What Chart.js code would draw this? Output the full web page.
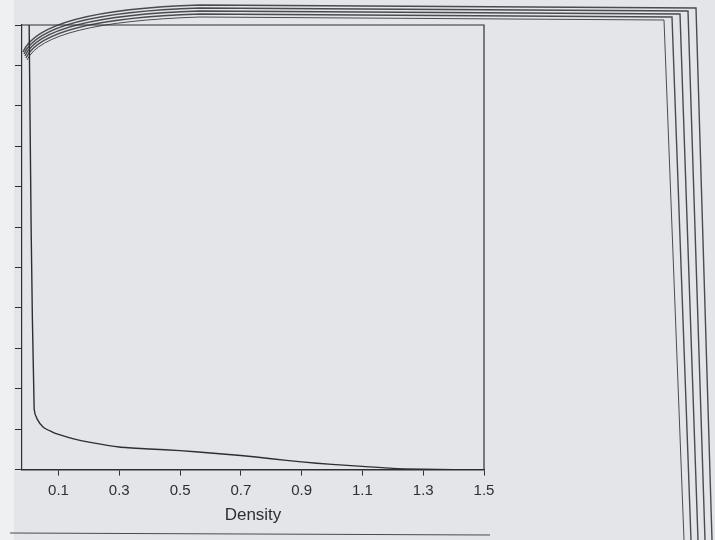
<!DOCTYPE html>
<html>
<head>
<meta charset="utf-8">
<script src="https://cdn.jsdelivr.net/npm/chart.js@4.4.1/dist/chart.umd.min.js"></script>
<style>
    body { margin: 0; background: #e3e5e9; }
    canvas { display: block; }
</style>
</head>
<body>
<canvas id="density-chart" width="715" height="540"></canvas>
<script>
// density curve (x = value, y = density)
const densityX = [0, 0.01, 0.02, 0.03, 0.05, 0.08, 0.1, 0.15, 0.2, 0.3, 0.4, 0.5, 0.6, 0.7, 0.8, 0.9, 1.0, 1.1, 1.2, 1.3, 1.4, 1.5];
const densityY = [14, 6, 1.5, 1.25, 1.05, 0.93, 0.87, 0.76, 0.68, 0.56, 0.51, 0.47, 0.41, 0.35, 0.27, 0.19, 0.13, 0.08, 0.03, 0.01, 0, 0];
const xTickValues = [0.1, 0.3, 0.5, 0.7, 0.9, 1.1, 1.3, 1.5];
const xTitle = "Density";

const ink = "#2e2f33";

// paper background and the edges of the stacked pages in the photo
const paperPlugin = {
    id: "paper",
    beforeDraw(chart) {
        const ctx = chart.ctx;
        ctx.save();
        ctx.fillStyle = "#e3e5e9";
        ctx.fillRect(0, 0, chart.width, chart.height);
        ctx.fillStyle = "#eff0f2";
        ctx.fillRect(0, 0, 14, chart.height);

        ctx.strokeStyle = "#4a4b50";
        for (let i = 0; i < 5; i++) {
            ctx.lineWidth = i === 0 ? 1 : 1.4;
            ctx.beginPath();
            ctx.moveTo(27 - i, 60 - i * 2);
            ctx.quadraticCurveTo(45 - i, 22 - i * 3, 200, 17 - i * 3);
            ctx.lineTo(664 + i * 8, 20 - i * 3);
            ctx.lineTo(684 + i * 7, 540);
            ctx.stroke();
        }
        ctx.lineWidth = 1.2;
        ctx.beginPath();
        ctx.moveTo(10, 533);
        ctx.lineTo(490, 535);
        ctx.stroke();
        ctx.restore();
    },
    afterDatasetsDraw(chart) {
        const a = chart.chartArea;
        const ctx = chart.ctx;
        ctx.save();
        ctx.strokeStyle = ink;
        ctx.lineWidth = 1.2;
        ctx.beginPath();
        ctx.moveTo(a.left, a.top);
        ctx.lineTo(a.right, a.top);
        ctx.lineTo(a.right, a.bottom);
        ctx.stroke();
        ctx.restore();
    },
};

document.addEventListener("DOMContentLoaded", function () {
    drawDensity();
});

function drawDensity() {
    const canvas = document.getElementById("density-chart");

    let points = [];
    for (let i = 0; i < densityX.length; i++) {
        points.push({ x: densityX[i], y: densityY[i] });
    }

    new Chart(canvas, {
        type: "line",
        data: {
            datasets: [
                {
                    data: points,
                    borderColor: ink,
                    borderWidth: 1.4,
                    pointRadius: 0,
                    fill: false,
                    tension: 0.2,
                },
            ],
        },
        plugins: [paperPlugin],
        options: {
            responsive: false,
            animation: false,
            layout: {
                padding: { left: 15, right: 231, top: 25, bottom: 14 },
            },
            plugins: {
                legend: { display: false },
                tooltip: { enabled: false },
            },
            scales: {
                x: {
                    type: "linear",
                    min: -0.02,
                    max: 1.5,
                    afterBuildTicks: (axis) => {
                        axis.ticks = xTickValues.map((v) => ({ value: v }));
                    },
                    ticks: {
                        color: ink,
                        padding: 6,
                        maxRotation: 0,
                        font: { family: "Liberation Sans", size: 15 },
                        callback: (value) => value.toFixed(1),
                    },
                    grid: {
                        drawOnChartArea: false,
                        tickLength: 6,
                        color: ink,
                    },
                    border: { color: ink, width: 1.5 },
                    title: {
                        display: true,
                        text: xTitle,
                        color: ink,
                        padding: { top: 0, bottom: 0 },
                        font: { family: "Liberation Sans", size: 17 },
                    },
                },
                y: {
                    min: 0,
                    max: 11,
                    ticks: { display: false, stepSize: 1 },
                    grid: {
                        drawOnChartArea: false,
                        tickLength: 7,
                        color: ink,
                    },
                    border: { color: ink, width: 1.2 },
                },
            },
        },
    });
}
</script>
</body>
</html>
